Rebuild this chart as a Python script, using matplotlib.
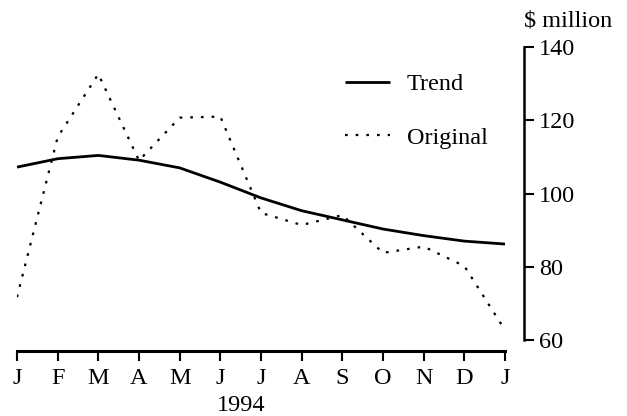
import matplotlib
matplotlib.use("Agg")
import matplotlib.pyplot as plt
import numpy as np

months = ["J", "F", "M", "A", "M", "J", "J", "A", "S", "O", "N", "D", "J"]
trend = [107.2, 109.5, 110.4, 109.1, 107.0, 103.1, 98.8, 95.3, 92.8, 90.3, 88.5, 87.0, 86.2]
original = [71.7, 115.4, 132.6, 109.0, 120.7, 121.0, 94.7, 91.4, 94.1, 83.8, 85.5, 80.2, 62.7]
y_ticks = [60, 80, 100, 120, 140]

plt.rcParams["font.family"] = ["Liberation Serif", "DejaVu Serif"]
fs = 17.5

fig = plt.figure(figsize=(6.27, 4.16), dpi=100)
ax = fig.add_axes([17 / 627, 65 / 416, 507 / 627, 304 / 416])

x = np.arange(len(months))
ax.plot(x, trend, color="black", lw=2.0, solid_capstyle="butt", label="Trend")
ax.plot(x, original, color="black", lw=1.6, linestyle=(0, (1.2, 3.6)), label="Original")

ax.set_xlim(0, 12.467)
ax.set_ylim(57.0, 140)

for side in ["top", "left"]:
    ax.spines[side].set_visible(False)
ax.spines["bottom"].set_bounds(0, 12)
ax.spines["bottom"].set_linewidth(2.2)
ax.spines["right"].set_bounds(60, 140)
ax.spines["right"].set_linewidth(1.8)

ax.set_xticks(x)
ax.set_xticklabels(months)
ax.set_yticks(y_ticks)
ax.yaxis.tick_right()
ax.tick_params(axis="x", direction="out", length=7, width=1.5, pad=5, labelsize=fs)
ax.tick_params(axis="y", direction="out", length=7, width=1.5, pad=4, labelsize=fs)

ax.text(5.5, -0.18, "1994", transform=ax.get_xaxis_transform(), ha="center", va="center", fontsize=fs)
fig.text(568 / 627, 1 - 21 / 416, "$ million", ha="center", va="center", fontsize=fs)

leg = ax.legend(loc="upper left", bbox_to_anchor=(328 / 627, 1 - 56 / 416), bbox_transform=fig.transFigure,
                frameon=False, fontsize=fs, handlelength=1.85, handletextpad=0.7, labelspacing=1.3,
                borderpad=0.2)

fig.savefig("out.png", dpi=100)
